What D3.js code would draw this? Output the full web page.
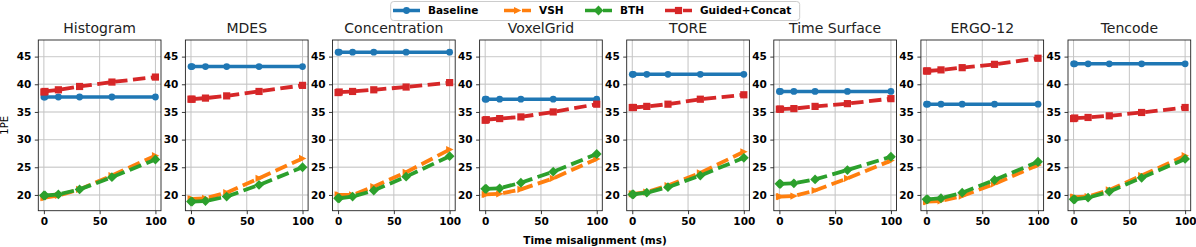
<!DOCTYPE html>
<html>
<head>
<meta charset="utf-8">
<script src="https://cdn.jsdelivr.net/npm/d3@7"></script>
<style>
  body { margin: 0; background: #fff; }
  svg { display: block; }
  text { font-family: "DejaVu Sans", sans-serif; }
</style>
</head>
<body>
<svg id="chart" width="1196" height="247"></svg>
<script>
// panel titles and shared x values (ms)
const panels = ['Histogram', 'MDES', 'Concentration', 'VoxelGrid', 'TORE', 'Time Surface', 'ERGO-12', 'Tencode']
const misalign = [0, 1, 13, 32, 61, 100]
const xTicks = [0, 50, 100]
const yTicks = [20, 25, 30, 35, 40, 45]

// one row per panel, one value per misalignment
const baseline = [
  [37.7, 37.7, 37.7, 37.7, 37.7, 37.7],
  [43.2, 43.2, 43.2, 43.2, 43.2, 43.2],
  [45.8, 45.8, 45.8, 45.8, 45.8, 45.8],
  [37.3, 37.3, 37.3, 37.3, 37.3, 37.3],
  [41.8, 41.8, 41.8, 41.8, 41.8, 41.8],
  [38.7, 38.7, 38.7, 38.7, 38.7, 38.7],
  [36.4, 36.4, 36.4, 36.4, 36.4, 36.4],
  [43.7, 43.7, 43.7, 43.7, 43.7, 43.7]
]
const vsh = [
  [19.5, 19.5, 19.9, 21.0, 23.5, 27.1],
  [19.3, 19.3, 19.4, 20.4, 23.0, 26.6],
  [20.0, 20.0, 20.0, 21.5, 24.1, 28.2],
  [20.1, 20.1, 20.2, 21.0, 23.0, 26.5],
  [20.2, 20.2, 20.5, 21.7, 24.0, 27.8],
  [19.7, 19.7, 19.8, 20.8, 23.0, 26.2],
  [18.8, 18.8, 18.9, 19.8, 22.0, 25.4],
  [19.6, 19.6, 19.7, 20.9, 23.5, 27.1]
]
const bth = [
  [19.9, 19.9, 20.1, 21.0, 23.2, 26.4],
  [18.8, 18.8, 18.9, 19.7, 21.8, 25.0],
  [19.4, 19.4, 19.7, 20.8, 23.3, 27.0],
  [21.1, 21.1, 21.2, 22.2, 24.2, 27.4],
  [20.1, 20.1, 20.4, 21.4, 23.5, 26.7],
  [22.0, 22.0, 22.1, 22.8, 24.5, 26.9],
  [19.2, 19.2, 19.4, 20.4, 22.7, 26.0],
  [19.2, 19.2, 19.5, 20.6, 23.1, 26.5]
]
const guided = [
  [38.6, 38.7, 39.0, 39.6, 40.4, 41.3],
  [37.3, 37.3, 37.5, 37.9, 38.7, 39.8],
  [38.5, 38.6, 38.7, 39.0, 39.5, 40.3],
  [33.5, 33.6, 33.8, 34.1, 35.0, 36.4],
  [35.8, 35.8, 36.0, 36.4, 37.3, 38.1],
  [35.5, 35.5, 35.6, 36.0, 36.5, 37.4],
  [42.4, 42.4, 42.6, 43.0, 43.6, 44.7],
  [33.8, 33.9, 34.0, 34.3, 34.9, 35.8]
]

const series = [
  {name: 'Baseline', data: baseline, color: '#1f77b4', dash: null, marker: 'circle'},
  {name: 'VSH', data: vsh, color: '#ff7f0e', dash: '12.5,5.5', marker: 'triangle'},
  {name: 'BTH', data: bth, color: '#2ca02c', dash: '12.5,5.5', marker: 'diamond'},
  {name: 'Guided+Concat', data: guided, color: '#d62728', dash: '12.5,5.5', marker: 'square'}
]

const svg = d3.select('#chart')

const panelLeft = 38.3
const panelStep = 147.1
const panelW = 122.7
const panelTop = 40
const panelH = 170.7

const x = d3.scaleLinear().domain([-5, 105]).range([0, panelW])
const y = d3.scaleLinear().domain([17.15, 48.0]).range([panelH, 0])

function markerPath (kind) {
  if (kind === 'circle') return d3.symbol(d3.symbolCircle, 36)()
  if (kind === 'square') return 'M-3.6,-3.6H3.6V3.6H-3.6Z'
  if (kind === 'diamond') return 'M0,-4.9L4.9,0L0,4.9L-4.9,0Z'
  return 'M-3.5,-3.6L3.9,0L-3.5,3.6Z'
}

const line = d3.line()
  .x((d, i) => x(misalign[i]))
  .y(d => y(d))

panels.forEach(function (title, p) {
  const g = svg.append('g')
    .attr('transform', 'translate(' + (panelLeft + p * panelStep) + ',' + panelTop + ')')

  // grid
  g.selectAll('.hgrid').data(yTicks).enter().append('line')
    .attr('x1', 0).attr('x2', panelW)
    .attr('y1', d => y(d)).attr('y2', d => y(d))
    .attr('stroke', '#d4d4d4').attr('stroke-width', 1.4)
  g.selectAll('.vgrid').data(xTicks).enter().append('line')
    .attr('y1', 0).attr('y2', panelH)
    .attr('x1', d => x(d)).attr('x2', d => x(d))
    .attr('stroke', '#c4c4c4').attr('stroke-width', 1)

  // axes
  const xAxis = d3.axisBottom(x).tickValues(xTicks).tickSize(3.5).tickPadding(3.5)
  const yAxis = d3.axisLeft(y).tickValues(yTicks).tickSize(3.5).tickPadding(3.5)

  g.append('g').attr('transform', 'translate(0,' + panelH + ')').call(xAxis)
    .call(a => a.select('.domain').remove())
  g.append('g').call(yAxis)
    .call(a => a.select('.domain').remove())

  g.selectAll('.tick text')
    .attr('font-family', '"DejaVu Sans", sans-serif')
    .attr('font-size', '10.5px')
    .attr('font-weight', 'bold')
    .attr('fill', '#000')
  g.selectAll('.tick line').attr('stroke', '#222').attr('stroke-width', 0.9)

  // series
  series.forEach(function (s) {
    const vals = s.data[p]
    g.append('path')
      .attr('d', line(vals))
      .attr('fill', 'none')
      .attr('stroke', s.color)
      .attr('stroke-width', s.dash ? 3.8 : 3.5)
      .attr('stroke-dasharray', s.dash)
    g.selectAll(null).data(vals).enter().append('path')
      .attr('d', markerPath(s.marker))
      .attr('transform', (d, i) => 'translate(' + x(misalign[i]) + ',' + y(d) + ')')
      .attr('fill', s.color)
  })

  // frame
  g.append('rect')
    .attr('width', panelW).attr('height', panelH)
    .attr('fill', 'none').attr('stroke', '#222').attr('stroke-width', 0.9)

  g.append('text')
    .attr('x', panelW / 2).attr('y', -7)
    .attr('text-anchor', 'middle')
    .attr('font-size', '14px')
    .attr('fill', '#222')
    .text(title)
})

// y label
svg.append('text')
  .attr('transform', 'translate(8,' + (panelTop + panelH / 2) + ') rotate(-90)')
  .attr('text-anchor', 'middle')
  .attr('font-size', '10px')
  .text('1PE')

// x label
svg.append('text')
  .attr('x', 595).attr('y', 244)
  .attr('text-anchor', 'middle')
  .attr('font-size', '10.5px')
  .attr('font-weight', 'bold')
  .text('Time misalignment (ms)')

// legend
const legend = svg.append('g')
legend.append('rect')
  .attr('x', 390.7).attr('y', 1.5)
  .attr('width', 409).attr('height', 19)
  .attr('rx', 3)
  .attr('fill', '#fff').attr('fill-opacity', 0.85)
  .attr('stroke', '#cccccc').attr('stroke-width', 1)

const legendX = [393, 504, 585, 665]
series.forEach(function (s, i) {
  const lx = legendX[i]
  legend.append('line')
    .attr('x1', lx).attr('x2', lx + 27)
    .attr('y1', 10.5).attr('y2', 10.5)
    .attr('stroke', s.color).attr('stroke-width', 3.5)
    .attr('stroke-dasharray', s.dash)
  legend.append('path')
    .attr('d', markerPath(s.marker))
    .attr('transform', 'translate(' + (lx + 13.5) + ',10.5)')
    .attr('fill', s.color)
  legend.append('text')
    .attr('x', lx + 35).attr('y', 14.3)
    .attr('font-size', '10.5px')
    .attr('font-weight', 'bold')
    .text(s.name)
})
</script>
</body>
</html>
